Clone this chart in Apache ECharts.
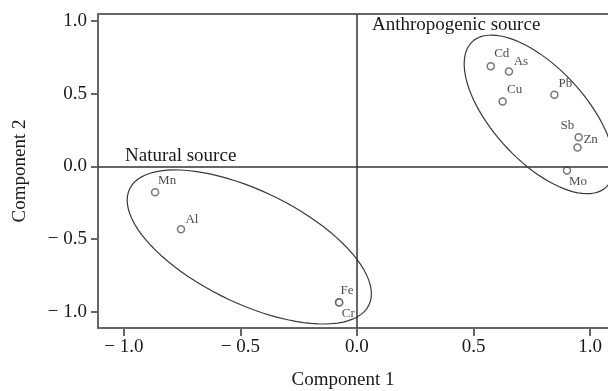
<!DOCTYPE html>
<html>
<head>
<meta charset="utf-8">
<script src="https://cdn.jsdelivr.net/npm/echarts@6/dist/echarts.min.js"></script>
<style>
  html, body { margin: 0; padding: 0; background: #fff; }
  #chart { width: 608px; height: 391px; }
</style>
</head>
<body>
<div id="chart"></div>
<script>
// loadings
var elements = ['Mn', 'Al', 'Fe', 'Cr', 'Cd', 'As', 'Cu', 'Pb', 'Zn', 'Sb', 'Mo'];
var comp1 = [-0.866, -0.755, -0.077, -0.076, 0.574, 0.652, 0.625, 0.847, 0.951, 0.946, 0.901];
var comp2 = [-0.177, -0.431, -0.933, -0.934, 0.689, 0.653, 0.447, 0.493, 0.201, 0.131, -0.027];
var tickValues = [-1, -0.5, 0, 0.5, 1];

// ellipse groups: centre x, centre y, two conjugate half-axes (data units)
var groupNames = ['Natural source', 'Anthropogenic source'];
var ellipseCx = [-0.462, 0.782];
var ellipseCy = [-0.553, 0.358];
var ellipseU = [[0.513, -0.400], [0.287, -0.500]];
var ellipseV = [[-0.106, -0.347], [-0.146, -0.217]];

// where each tag sits relative to its circle (pixels)
var tagOffset = {
    Mn: [12, -12], Al: [11, -10], Fe: [8, -12], Cr: [9, 11],
    Cd: [11, -13], As: [12, -10], Cu: [12, -12], Pb: [11, -11],
    Zn: [12, 2], Sb: [-10, -22], Mo: [11, 11]
};

var serif = "'Liberation Serif', 'Times New Roman', serif";

var points = elements.map(function (name, i) {
    return {
        name: name,
        value: [comp1[i], comp2[i]],
        label: { offset: tagOffset[name] }
    };
});

var ellipses = groupNames.map(function (g, i) {
    return [ellipseCx[i], ellipseCy[i], ellipseU[i][0], ellipseU[i][1], ellipseV[i][0], ellipseV[i][1]];
});

function tickText(v) {
    return v < 0 ? '\u2212 ' + Math.abs(v).toFixed(1) : v.toFixed(1);
}

var myChart = echarts.init(document.getElementById('chart'));
var option = {
    animation: false,
    backgroundColor: '#fff',
    grid: { left: 98, right: 0, top: 14, bottom: 63, outerBoundsMode: 'none', containLabel: false },
    xAxis: [{
        type: 'value',
        min: -1.111,
        max: 1.077,
        name: 'Component 1',
        nameLocation: 'middle',
        nameGap: 43,
        nameTextStyle: { fontFamily: serif, fontSize: 19, color: '#1a1a1a', padding: [0, 20, 0, 0] },
        splitLine: { show: false },
        axisLine: { onZero: false, lineStyle: { color: '#666', width: 2 } },
        axisTick: { customValues: tickValues, length: 8, lineStyle: { color: '#666', width: 2 } },
        axisLabel: { customValues: tickValues, formatter: tickText, margin: 10,
            fontFamily: serif, fontSize: 19, color: '#1a1a1a' }
    }, {
        type: 'value',
        position: 'top',
        min: -1.111,
        max: 1.077,
        splitLine: { show: false },
        axisTick: { show: false },
        axisLabel: { show: false },
        axisLine: { onZero: false, lineStyle: { color: '#666', width: 2 } }
    }],
    yAxis: {
        type: 'value',
        min: -1.11,
        max: 1.048,
        name: 'Component 2',
        nameLocation: 'middle',
        nameGap: 68,
        nameTextStyle: { fontFamily: serif, fontSize: 19, color: '#1a1a1a' },
        splitLine: { show: false },
        axisLine: { onZero: false, lineStyle: { color: '#666', width: 2 } },
        axisTick: { customValues: tickValues, length: 7, lineStyle: { color: '#666', width: 2 } },
        axisLabel: { customValues: tickValues, formatter: tickText, margin: 11,
            fontFamily: serif, fontSize: 19, color: '#1a1a1a' }
    },
    graphic: [
        { type: 'text', left: 125, top: 147, style: { text: groupNames[0], font: '19px ' + serif, fill: '#1a1a1a' } },
        { type: 'text', left: 372, top: 16, style: { text: groupNames[1], font: '19px ' + serif, fill: '#1a1a1a' } }
    ],
    series: [{
        type: 'custom',
        data: ellipses,
        silent: true,
        clip: false,
        renderItem: function (params, api) {
            var pts = [];
            for (var k = 0; k < 90; k++) {
                var t = k / 90 * Math.PI * 2;
                var x = api.value(0) + api.value(2) * Math.cos(t) + api.value(4) * Math.sin(t);
                var y = api.value(1) + api.value(3) * Math.cos(t) + api.value(5) * Math.sin(t);
                pts.push(api.coord([x, y]));
            }
            return {
                type: 'polygon',
                shape: { points: pts },
                style: { fill: 'none', stroke: '#3a3a3a', lineWidth: 1.2 }
            };
        }
    }, {
        type: 'scatter',
        data: points,
        symbol: 'circle',
        symbolSize: 7,
        itemStyle: { color: '#fff', borderColor: '#555', borderWidth: 1.5 },
        label: {
            show: true,
            position: 'inside',
            formatter: '{b}',
            fontFamily: serif,
            fontSize: 13,
            color: '#1a1a1a'
        },
        markLine: {
            silent: true,
            symbol: 'none',
            label: { show: false },
            lineStyle: { color: '#333', width: 1.5, type: 'solid' },
            data: [{ xAxis: 0 }, { yAxis: 0 }]
        }
    }]
};
myChart.setOption(option, true);
</script>
</body>
</html>
